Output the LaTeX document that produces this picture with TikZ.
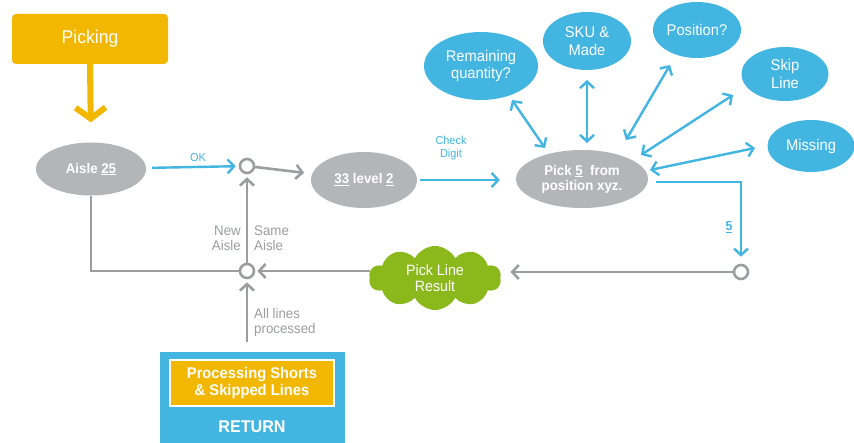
\documentclass[tikz,border=0pt]{standalone}
\usepackage{fontspec}
\setmainfont{Liberation Sans}[FakeStretch=0.95]
\usetikzlibrary{arrows.meta,shapes.geometric,shapes.symbols,calc}
\definecolor{cblue}{HTML}{42B5E1}
\definecolor{cgray}{HTML}{B4B5B7}
\definecolor{cline}{HTML}{9C9D9F}
\definecolor{cyellow}{HTML}{F2B700}
\definecolor{cgreen}{HTML}{8BB81B}
\tikzset{
  grayell/.style={ellipse,fill=cgray,text=white,inner sep=0pt,align=center,font=\fontsize{14}{16}\selectfont\bfseries},
  blueell/.style={ellipse,fill=cblue,text=white,inner sep=0pt,align=center,font=\fontsize{15.5}{17.5}\selectfont},
  junc/.style={circle,draw=cline,line width=2.6pt,fill=white,minimum size=14pt,inner sep=0pt},
  barrow/.style={draw=cblue,line width=2.4pt,-{Straight Barb[length=6.5pt,width=14pt,line width=2.4pt]}},
  bdbl/.style={draw=cblue,line width=2.4pt,{Straight Barb[length=6.5pt,width=14pt,line width=2.4pt]}-{Straight Barb[length=6.5pt,width=14pt,line width=2.4pt]}},
  garrow/.style={draw=cline,line width=2.6pt,-{Straight Barb[length=6.5pt,width=14pt,line width=2.6pt]}},
  gline/.style={draw=cline,line width=2.6pt},
  glabel/.style={text=cline,font=\fontsize{14}{15}\selectfont,inner sep=0pt},
  blabel/.style={text=cblue,font=\fontsize{11.5}{13}\selectfont,inner sep=0pt,align=center}
}
\begin{document}
\begin{tikzpicture}[x=1pt,y=-1pt]
\useasboundingbox[fill=white] (0,0) rectangle (854,443);
% nodes
\node[fill=cyellow,rounded corners=4pt,minimum width=156pt,minimum height=50pt,text=white,font=\fontsize{18.5}{20}\selectfont] (picking) at (90,39) {Picking};
\node[grayell,minimum width=110pt,minimum height=53pt] (aisle) at (91,169) {Aisle \underline{25}};
\node[junc] (j1) at (247,166) {};
\node[grayell,minimum width=106pt,minimum height=56pt] (lvl) at (364,180) {\underline{33} level \underline{2}};
\node[grayell,minimum width=132pt,minimum height=58pt,font=\fontsize{14}{15}\selectfont\bfseries] (pick) at (582,179) {Pick \underline{5}\ \ from\\position xyz.};
\node[blueell,minimum width=114pt,minimum height=68pt] (rem) at (481,66) {Remaining\\quantity?};
\node[blueell,minimum width=88pt,minimum height=58pt] (sku) at (587,41) {SKU \&\\Made};
\node[blueell,minimum width=88pt,minimum height=56pt] (pos) at (697,30) {Position?};
\node[blueell,minimum width=87pt,minimum height=54pt] (skip) at (785,74) {Skip\\Line};
\node[blueell,minimum width=87pt,minimum height=52pt] (miss) at (811,146) {Missing};
\node[junc] (j2) at (741,272) {};
\node[junc] (j3) at (247,271) {};
\node[cloud,cloud puffs=10,cloud puff arc=125,aspect=2,fill=cgreen,text=white,minimum width=132pt,minimum height=64pt,inner sep=0pt,align=center,font=\fontsize{15}{16.5}\selectfont] (cloud) at (435,278) {Pick Line\\Result};
\node[fill=cblue,minimum width=185pt,minimum height=91pt,inner sep=0pt] (ret) at (252.5,397.5) {};
\node[fill=cyellow,draw=white,line width=2.5pt,minimum width=164pt,minimum height=46pt,inner sep=0pt,text=white,align=center,font=\fontsize{15.5}{17}\selectfont\bfseries] (proc) at (252,383) {Processing Shorts\\\& Skipped Lines};
\node[text=white,font=\fontsize{17}{19}\selectfont\bfseries,inner sep=0pt] (rettxt) at (252,427) {RETURN};
% labels
\node[blabel] (ok) at (198,158) {OK};
\node[blabel] (chk) at (451,148) {Check\\Digit};
\node[text=cblue,font=\fontsize{13}{14}\selectfont\bfseries,inner sep=0pt] (five) at (729,227) {\underline{5}};
\node[glabel,anchor=east,align=right] (newa) at (241,238) {New\\Aisle};
\node[glabel,anchor=west,align=left] (samea) at (254,238) {Same\\Aisle};
\node[glabel,anchor=west,align=left] (alll) at (254,322) {All lines\\processed};
% connectors
\draw[draw=cyellow,line width=6pt,-{Straight Barb[length=11pt,width=30pt,line width=6pt]},shorten >=20pt] (picking.south) -- (aisle.north);
\draw[barrow,shorten <=6pt,shorten >=3pt] (aisle) -- (j1);
\draw[garrow,shorten >=8pt] (j1) -- (lvl);
\draw[barrow,shorten <=3pt,shorten >=16pt] (lvl.east) -- (lvl.east -| pick.west);
\draw[bdbl] ($(pick)+(-37,-31)$) -- ($(rem)+(31,34)$);
\draw[bdbl] ($(sku)+(0,39)$) -- ($(sku)+(0,102)$);
\draw[bdbl] ($(pick)+(44,-39)$) -- ($(pos)+(-27,35)$);
\draw[bdbl] ($(pick)+(59,-24)$) -- ($(skip)+(-52,21)$);
\draw[bdbl] ($(pick)+(68,-9)$) -- ($(miss)+(-56,2)$);
\draw[barrow,shorten >=7pt] ($(pick)+(74,3)$) -| (j2);
\draw[garrow,shorten >=10pt] (j2.west) -- (cloud.east |- j2.west);
\draw[garrow,shorten >=2pt] (cloud.west |- j3) -- (j3.east);
\draw[gline] (aisle.south) |- (j3.west);
\draw[garrow,shorten >=3pt] (j3.north) -- (j1.south);
\draw[garrow,shorten <=10pt,shorten >=3pt] (ret.north -| j3) -- (j3.south);
\end{tikzpicture}
\end{document}
